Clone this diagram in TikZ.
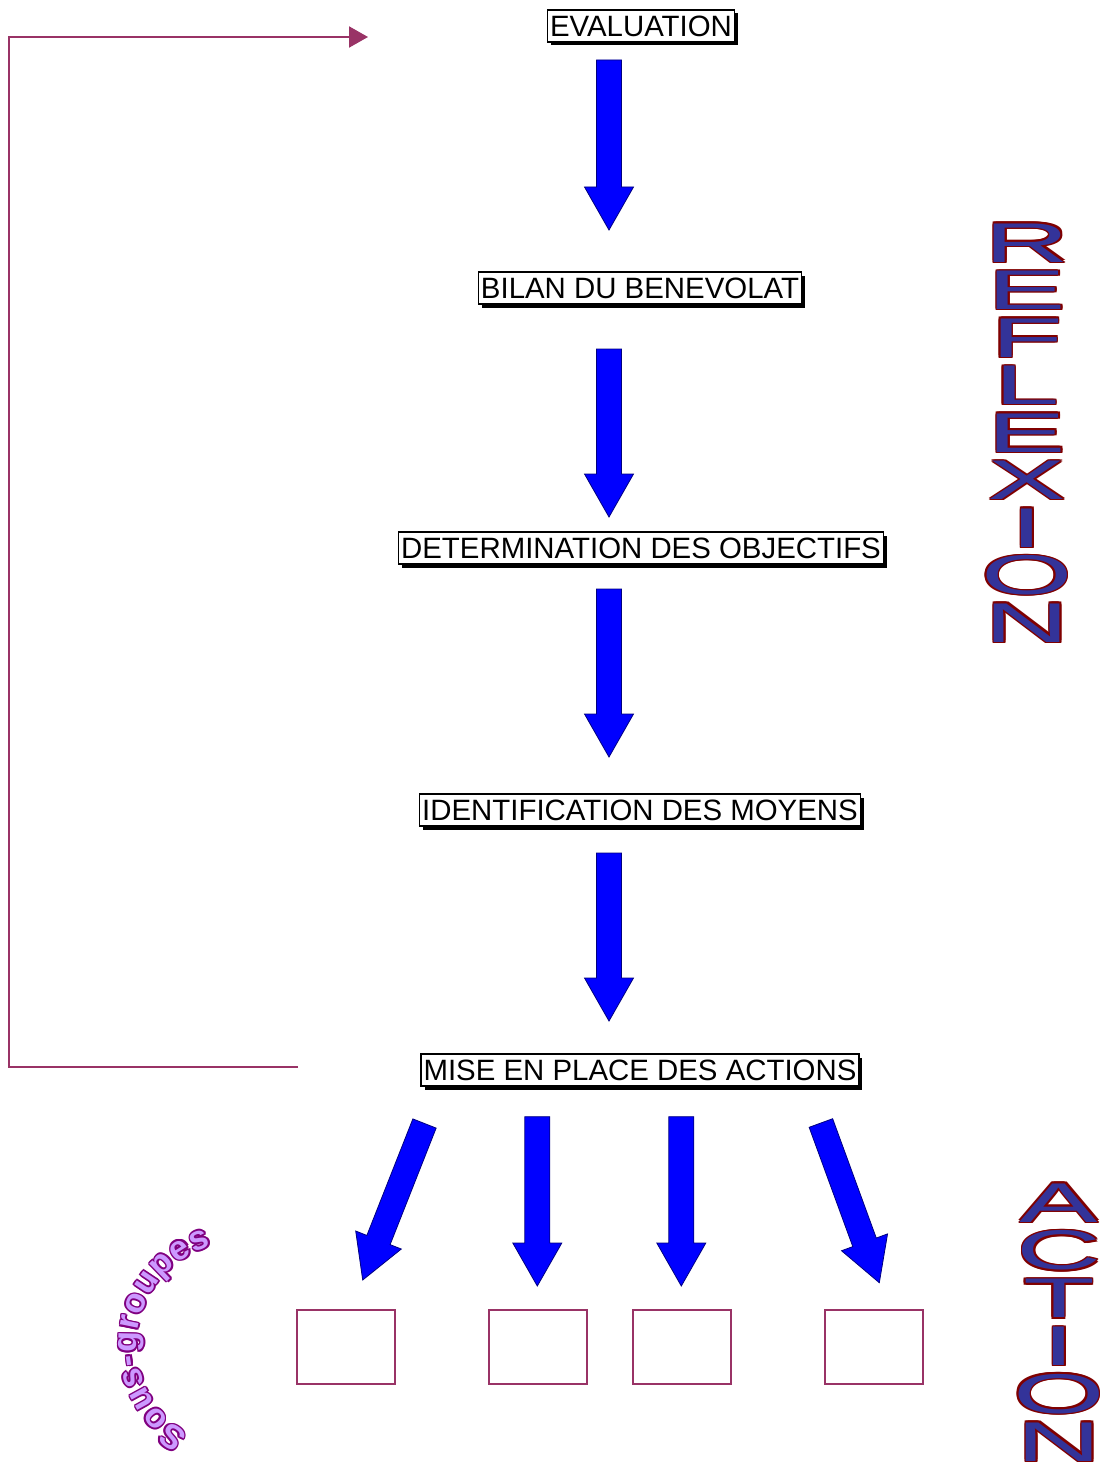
\documentclass[tikz,border=0pt]{standalone}
\usepackage{fontspec}
\usepackage{graphicx}
\usetikzlibrary{calc,arrows.meta,shadows,decorations.text}
\newfontfamily\lsans{Liberation Sans}
\definecolor{plum}{HTML}{993366}
\definecolor{navyline}{HTML}{000080}
\definecolor{fatblue}{HTML}{0000FF}
\definecolor{letfill}{HTML}{333399}
\definecolor{letline}{HTML}{800000}
\definecolor{sgfill}{HTML}{CC99FF}
\definecolor{sgline}{HTML}{800080}
\newcommand\labelfont{\lsans\fontsize{29.4}{34}\selectfont}
\newcommand\letterfont{\lsans\fontsize{56}{60}\selectfont}
\newcommand\sgfont{\lsans\bfseries\fontsize{34}{40}\selectfont}
% outlined text: #1 fill, #2 outline, #3 horizontal offset, #4 vertical offset, #5 text
\newcommand\outl[5]{\leavevmode
  \rlap{\kern#3\textcolor{#2}{#5}}%
  \rlap{\kern-#3\textcolor{#2}{#5}}%
  \rlap{\raisebox{#4}{\textcolor{#2}{#5}}}%
  \rlap{\raisebox{-#4}{\textcolor{#2}{#5}}}%
  \rlap{\kern#3\raisebox{#4}{\textcolor{#2}{#5}}}%
  \rlap{\kern-#3\raisebox{#4}{\textcolor{#2}{#5}}}%
  \rlap{\kern#3\raisebox{-#4}{\textcolor{#2}{#5}}}%
  \rlap{\kern-#3\raisebox{-#4}{\textcolor{#2}{#5}}}%
  \textcolor{#1}{#5}}
% fat block arrow from named coordinate #1 to named coordinate #2
\newcommand\fatarrow[2]{%
  \path ($(#2)!43pt!(#1)$) coordinate (fah);
  \draw[fatstyle] ($(#1)!12.5pt!90:(#2)$) -- ($(fah)!12.5pt!90:(#2)$) -- ($(fah)!24.5pt!90:(#2)$)
    -- (#2) -- ($(fah)!24.5pt!-90:(#2)$) -- ($(fah)!12.5pt!-90:(#2)$) -- ($(#1)!12.5pt!-90:(#2)$) -- cycle;}
\tikzset{
  labelbox/.style={draw=black, line width=1.5pt, fill=white, inner xsep=2.5pt, inner ysep=0pt,
    minimum height=32pt, font=\labelfont,
    drop shadow={shadow xshift=3.5pt, shadow yshift=-3.5pt, fill=black, opacity=1}},
  fatstyle/.style={fill=fatblue, draw=navyline, line width=0.8pt, line join=miter},
  feedback/.style={draw=plum, line width=2pt, -{Triangle[length=19pt,width=21pt]}},
  smallbox/.style={draw=plum, line width=1.6pt, minimum width=98pt, minimum height=74pt, inner sep=0pt},
  bigletter/.style={anchor=base, inner sep=0pt, font=\letterfont},
  sgtext/.style={decorate, decoration={text along path, text align={fit to path}, text={|\sgfont\color{#1}|Sous-groupes}}}
}
\begin{document}
\begin{tikzpicture}[x=1pt,y=1pt]
\useasboundingbox[fill=white] (0,0) rectangle (1103,-1463);

% boxed labels
\node[labelbox] (eval) at (641,-26) {EVALUATION};
\node[labelbox] (bilan) at (640,-288) {BILAN DU BENEVOLAT};
\node[labelbox] (objectifs) at (641,-548) {DETERMINATION DES OBJECTIFS};
\node[labelbox] (moyens) at (640,-810) {IDENTIFICATION DES MOYENS};
\node[labelbox] (actions) at (640,-1070) {MISE EN PLACE DES ACTIONS};

% vertical block arrows
\coordinate (a1s) at (609,-60);   \coordinate (a1e) at (609,-230);
\coordinate (a2s) at (609,-349);  \coordinate (a2e) at (609,-517);
\coordinate (a3s) at (609,-589);  \coordinate (a3e) at (609,-757);
\coordinate (a4s) at (609,-853);  \coordinate (a4e) at (609,-1021);
\fatarrow{a1s}{a1e}
\fatarrow{a2s}{a2e}
\fatarrow{a3s}{a3e}
\fatarrow{a4s}{a4e}

% bottom fan of block arrows
\coordinate (b1s) at (424.5,-1123.5); \coordinate (b1e) at (362.7,-1280);
\coordinate (b2s) at (537.3,-1116.7); \coordinate (b2e) at (537.3,-1286);
\coordinate (b3s) at (681.3,-1116.7); \coordinate (b3e) at (681.3,-1286);
\coordinate (b4s) at (820.9,-1123);   \coordinate (b4e) at (879.3,-1282.7);
\fatarrow{b1s}{b1e}
\fatarrow{b2s}{b2e}
\fatarrow{b3s}{b3e}
\fatarrow{b4s}{b4e}

% empty sub-group boxes
\node[smallbox] (sg1) at (346,-1347) {};
\node[smallbox] (sg2) at (538,-1347) {};
\node[smallbox] (sg3) at (682,-1347) {};
\node[smallbox] (sg4) at (874,-1347) {};

% feedback loop
\coordinate (fbstart) at (298,-1067);
\coordinate (fbend) at (368,-37);
\draw[feedback] (fbstart) -- (9,-1067) |- (fbend);

% REFLEXION
\foreach \l [count=\i from 0] in {R,E,F,L,E,X,I,O,N}
  \node[bigletter] (refl\i) at (1027,-262-47.5*\i) {\scalebox{2.1}[1]{\outl{letfill}{letline}{0.7pt}{1.4pt}{\l}}};

% ACTION
\foreach \l [count=\i from 0] in {A,C,T,I,O,N}
  \node[bigletter] (act\i) at (1059,-1222-47.8*\i) {\scalebox{2.1}[1]{\outl{letfill}{letline}{0.7pt}{1.4pt}{\l}}};

% Sous-groupes on an arc
\coordinate (sgc) at (240,-1345);
\foreach \dx/\dy in {1.7/0,-1.7/0,0/1.7,0/-1.7,1.2/1.2,-1.2/1.2,1.2/-1.2,-1.2/-1.2}
  \path[sgtext=sgline] ([shift={(\dx,\dy)}]sgc) ++(240:103) arc[start angle=240, end angle=106, radius=103];
\path[sgtext=sgfill] (sgc) ++(240:103) arc[start angle=240, end angle=106, radius=103];
\end{tikzpicture}
\end{document}
